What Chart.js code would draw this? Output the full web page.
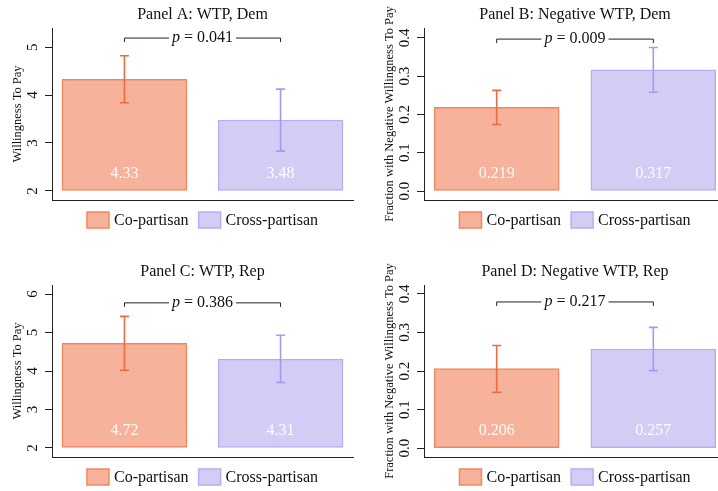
<!DOCTYPE html>
<html>
<head>
<meta charset="utf-8">
<script src="https://cdn.jsdelivr.net/npm/chart.js@4.4.0/dist/chart.umd.min.js"></script>
<style>
  html, body { margin: 0; padding: 0; background: #fff; overflow: hidden; }
  body { width: 718px; height: 491px; position: relative; }
  canvas { position: absolute; }
</style>
</head>
<body>
<canvas id="panel0" width="360" height="245" style="left:0;top:0"></canvas>
<canvas id="panel1" width="360" height="245" style="left:372px;top:0"></canvas>
<canvas id="panel2" width="360" height="246" style="left:0;top:245px"></canvas>
<canvas id="panel3" width="360" height="246" style="left:372px;top:245px"></canvas>
<script>
// data
var groups = ["Co-partisan", "Cross-partisan"];
var titles = ["Panel A: WTP, Dem", "Panel B: Negative WTP, Dem", "Panel C: WTP, Rep", "Panel D: Negative WTP, Rep"];
var yTitles = ["Willingness To Pay", "Fraction with Negative Willingness To Pay", "Willingness To Pay", "Fraction with Negative Willingness To Pay"];
var means = [[4.33, 3.48], [0.219, 0.317], [4.72, 4.31], [0.206, 0.257]];
var valueLabels = [["4.33", "3.48"], ["0.219", "0.317"], ["4.72", "4.31"], ["0.206", "0.257"]];
var ciLow = [[3.84, 2.83], [0.174, 0.258], [4.02, 3.70], [0.145, 0.201]];
var ciHigh = [[4.82, 4.125], [0.263, 0.375], [5.42, 4.93], [0.266, 0.313]];
var pValues = ["0.041", "0.009", "0.386", "0.217"];
var bracketAt = [5.19, 0.397, 5.77, 0.379];
var barBase = [2, 0, 2, 0];
var yTicks = [[2, 3, 4, 5], [0, 0.1, 0.2, 0.3, 0.4], [2, 3, 4, 5, 6], [0, 0.1, 0.2, 0.3, 0.4]];
var yTickLabels = [["2", "3", "4", "5"], ["0.0", "0.1", "0.2", "0.3", "0.4"], ["2", "3", "4", "5", "6"], ["0.0", "0.1", "0.2", "0.3", "0.4"]];
var yMin = [1.81, -0.0235, 1.766, -0.023];
var yMax = [5.4, 0.426, 6.234, 0.423];

var fills = ["#F6B29A", "#D3CDF5"];
var borders = ["#F2875F", "#B8ADF3"];
var whiskers = ["#EE6A40", "#A798F0"];
var serif = "'Liberation Serif', 'Times New Roman', serif";

var extras = {
  id: "extras",
  afterDatasetsDraw: function (chart) {
    var i = chart.options.plugins.extras.index;
    var ctx = chart.ctx, area = chart.chartArea, ys = chart.scales.y;
    ctx.save();

    // value labels inside bars
    ctx.font = "16px " + serif;
    ctx.fillStyle = "rgba(255,255,255,0.92)";
    ctx.textAlign = "center";
    ctx.textBaseline = "middle";
    chart.data.datasets.forEach(function (ds, j) {
      var bar = chart.getDatasetMeta(j).data[0];
      ctx.fillText(valueLabels[i][j], bar.x, ys.getPixelForValue(barBase[i]) - 17);
    });

    // error bars
    chart.data.datasets.forEach(function (ds, j) {
      var bar = chart.getDatasetMeta(j).data[0];
      var top = ys.getPixelForValue(ciHigh[i][j]);
      var bot = ys.getPixelForValue(ciLow[i][j]);
      ctx.strokeStyle = whiskers[j];
      ctx.lineWidth = 1.6;
      ctx.beginPath();
      ctx.moveTo(bar.x, top); ctx.lineTo(bar.x, bot);
      ctx.moveTo(bar.x - 4.5, top); ctx.lineTo(bar.x + 4.5, top);
      ctx.moveTo(bar.x - 4.5, bot); ctx.lineTo(bar.x + 4.5, bot);
      ctx.stroke();
    });

    // p-value bracket
    var b0 = chart.getDatasetMeta(0).data[0].x;
    var b1 = chart.getDatasetMeta(1).data[0].x;
    var by = ys.getPixelForValue(bracketAt[i]);
    var mid = (b0 + b1) / 2;
    ctx.font = "italic 16px " + serif;
    var wp = ctx.measureText("p").width;
    ctx.font = "16px " + serif;
    var rest = " = " + pValues[i];
    var wr = ctx.measureText(rest).width;
    var tw = wp + wr;
    var tx = mid - tw / 2;
    ctx.strokeStyle = "#222";
    ctx.lineWidth = 1;
    ctx.beginPath();
    ctx.moveTo(b0, by + 4); ctx.lineTo(b0, by); ctx.lineTo(tx - 3, by);
    ctx.moveTo(tx + tw + 3, by); ctx.lineTo(b1, by); ctx.lineTo(b1, by + 4);
    ctx.stroke();
    ctx.fillStyle = "#111";
    ctx.textAlign = "left";
    ctx.font = "italic 16px " + serif;
    ctx.fillText("p", tx, by);
    ctx.font = "16px " + serif;
    ctx.fillText(rest, tx + wp, by);

    // y tick labels, rotated
    ctx.font = "15px " + serif;
    ctx.textAlign = "center";
    yTicks[i].forEach(function (v, k) {
      ctx.save();
      ctx.translate(area.left - 19, ys.getPixelForValue(v));
      ctx.rotate(-Math.PI / 2);
      ctx.fillText(yTickLabels[i][k], 0, 0);
      ctx.restore();
    });

    // y axis title
    ctx.font = "12.5px " + serif;
    ctx.save();
    ctx.translate(area.left - 34, (area.top + area.bottom) / 2);
    ctx.rotate(-Math.PI / 2);
    ctx.fillText(yTitles[i], 0, 0);
    ctx.restore();

    // panel title
    ctx.font = "16px " + serif;
    ctx.fillText(titles[i], (area.left + area.right) / 2, area.top - 13);

    // legend
    ctx.font = "16px " + serif;
    var boxW = 22, boxH = 16, gap = 5, sep = 10;
    var widths = groups.map(function (g) { return ctx.measureText(g).width; });
    var total = widths[0] + widths[1] + 2 * (boxW + gap) + sep;
    var lx = (area.left + area.right) / 2 - total / 2;
    var ly = area.bottom + 20;
    groups.forEach(function (g, j) {
      ctx.fillStyle = fills[j];
      ctx.fillRect(lx, ly - boxH / 2, boxW, boxH);
      ctx.strokeStyle = borders[j];
      ctx.lineWidth = 1.5;
      ctx.strokeRect(lx, ly - boxH / 2, boxW, boxH);
      ctx.fillStyle = "#111";
      ctx.textAlign = "left";
      ctx.fillText(g, lx + boxW + gap, ly + 1);
      lx += boxW + gap + widths[j] + sep;
    });

    ctx.restore();
  }
};

function makePanel(i) {
  var datasets = groups.map(function (g, j) {
    return {
      label: g,
      data: [{ x: j + 1, y: means[i][j] }],
      base: barBase[i],
      backgroundColor: fills[j],
      borderColor: borders[j],
      borderWidth: 1.5,
      borderSkipped: false,
      barThickness: 125
    };
  });
  var bottomPad = i < 2 ? 45 : 34;
  var topPad = i < 2 ? 28 : 40;
  var rightPad = i % 2 === 0 ? 7 : 6;
  return new Chart(document.getElementById("panel" + i), {
    type: "bar",
    data: { datasets: datasets },
    options: {
      responsive: false,
      animation: false,
      layout: { padding: { top: topPad, bottom: bottomPad, left: 0, right: rightPad } },
      datasets: { bar: { grouped: false } },
      scales: {
        x: {
          type: "linear",
          offset: false,
          min: 0.536,
          max: 2.464,
          ticks: { display: false },
          grid: { display: false, drawTicks: false },
          border: { display: true, color: "#222", width: 1 },
          afterFit: function (s) { s.height = 0; }
        },
        y: {
          min: yMin[i],
          max: yMax[i],
          afterBuildTicks: function (s) {
            s.ticks = yTicks[i].map(function (v) { return { value: v }; });
          },
          ticks: { display: false },
          grid: { drawOnChartArea: false, drawTicks: true, tickLength: 7, color: "#222" },
          border: { display: true, color: "#222", width: 1 },
          afterFit: function (s) { s.width = 52; }
        }
      },
      plugins: {
        legend: { display: false },
        title: { display: false },
        tooltip: { enabled: false },
        extras: { index: i }
      }
    },
    plugins: [extras]
  });
}

for (var i = 0; i < 4; i++) makePanel(i);
</script>
</body>
</html>
